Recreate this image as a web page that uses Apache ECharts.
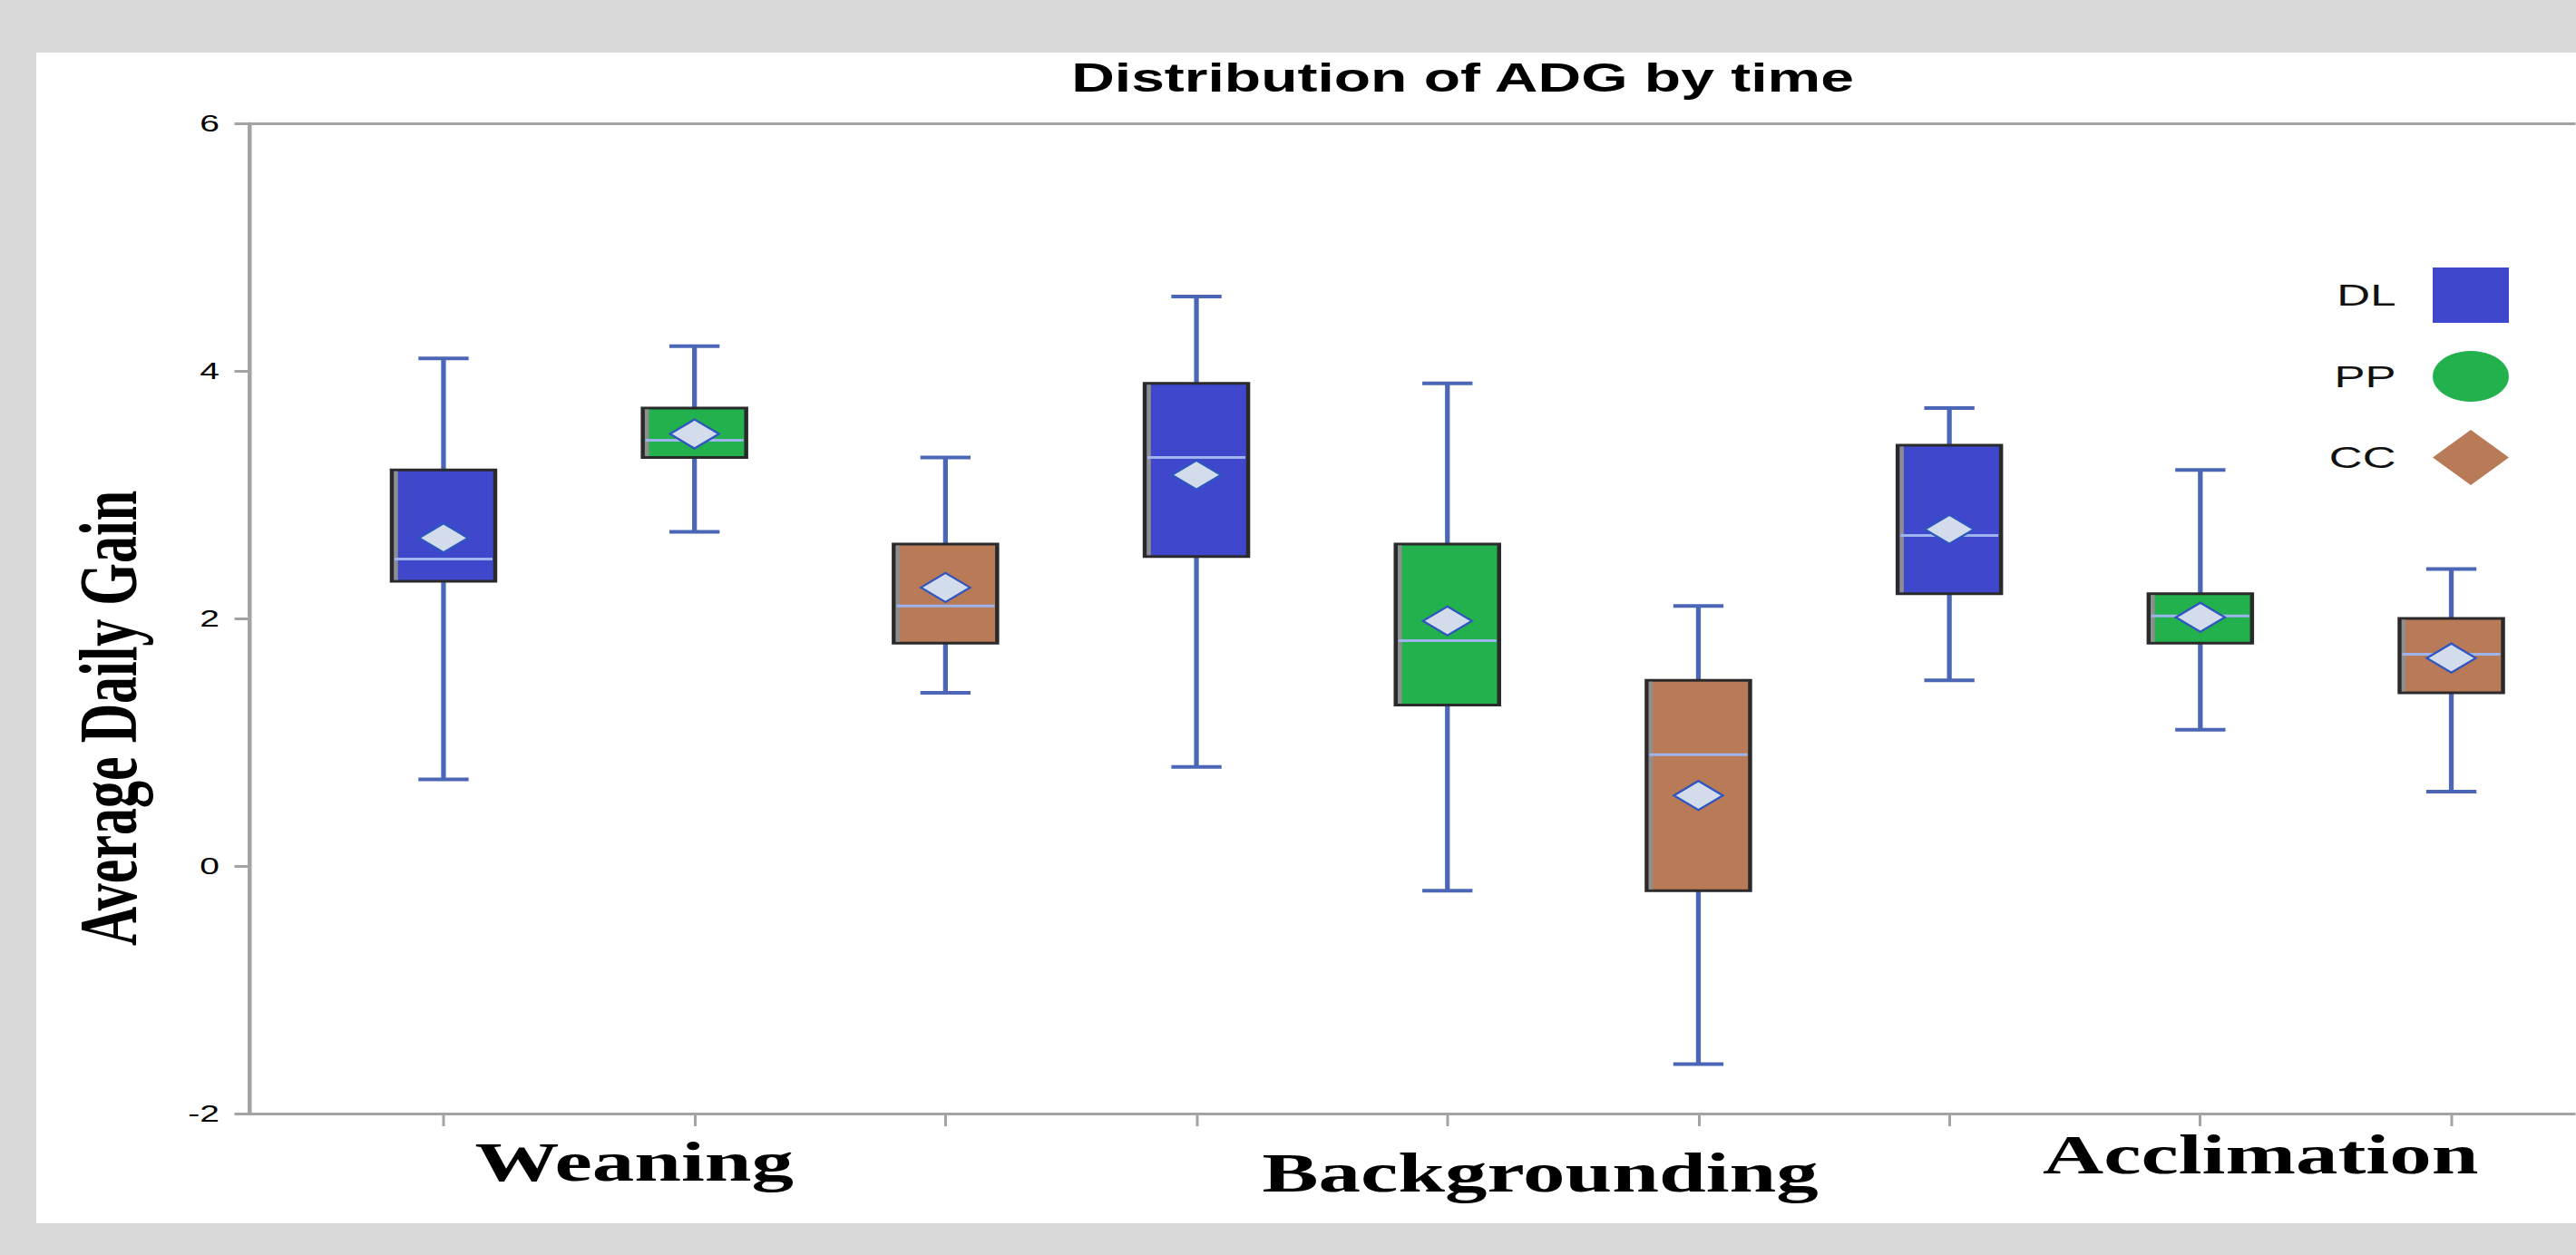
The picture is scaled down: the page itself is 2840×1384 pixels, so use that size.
<!DOCTYPE html>
<html>
<head>
<meta charset="utf-8">
<script src="https://cdn.jsdelivr.net/npm/echarts@6/dist/echarts.min.js"></script>
<style>
  html, body { margin: 0; padding: 0; width: 2840px; height: 1384px; overflow: hidden; background: #d9d9d9; }
  #panel { position: absolute; left: 40px; top: 58px; width: 2800px; height: 1291px; background: #ffffff; }
  /* the figure is drawn narrow and then widened 1.5x, giving its wide lettering */
  #chart { position: absolute; left: 0; top: 0; width: 1893.333px; height: 1384px; transform: scaleX(1.5); transform-origin: 0 0; }
</style>
</head>
<body>
<div id="panel"></div>
<div id="chart"></div>
<script>
// Time periods and treatments
const groups = ['Weaning', 'Backgrounding', 'Acclimation'];
const treatments = ['DL', 'PP', 'CC'];

// Five-number summaries per period: [min, Q1, median, Q3, max]
const dlStats = [[0.7, 2.3, 2.48, 3.2, 4.1], [0.8, 2.5, 3.3, 3.9, 4.6], [1.5, 2.2, 2.67, 3.4, 3.7]];
const ppStats = [[2.7, 3.3, 3.44, 3.7, 4.2], [-0.2, 1.3, 1.82, 2.6, 3.9], [1.1, 1.8, 2.02, 2.2, 3.2]];
const ccStats = [[1.4, 1.8, 2.1, 2.6, 3.3], [-1.6, -0.2, 0.9, 1.5, 2.1], [0.6, 1.4, 1.71, 2.0, 2.4]];

// Group means
const dlMeans = [2.65, 3.16, 2.72];
const ppMeans = [3.49, 1.98, 2.01];
const ccMeans = [2.25, 0.57, 1.68];

// Y axis ticks
const yTicks = [-2, 0, 2, 4, 6];

// Where the period names sit along the x axis
const groupLabelPos = [1.76, 5.37, 8.24];

const statsByTreatment = [dlStats, ppStats, ccStats];
const meansByTreatment = [dlMeans, ppMeans, ccMeans];
const fillColors = ['#3F48CC', '#22B14C', '#B97A57'];
const legendIcons = ['rect', 'circle', 'diamond'];

// Box position on the x axis: three boxes per period, one slot each
function slot(g, t) { return g * treatments.length + t + 1; }
const slotTicks = [];
groups.forEach((g, gi) => treatments.forEach((t, ti) => slotTicks.push(slot(gi, ti))));

const X_MIN = 0.2267;
const X_MAX = 9.495;
const BOX_W = 0.412;   // box width in x-axis units
const CAP_W = 0.2;     // whisker cap width in x-axis units
const WHISKER = '#4b66b6';
const AXIS_GRAY = '#a3a3a3';

function renderBox(params, api) {
  const x = api.value(0);
  const lo = api.coord([x, api.value(1)]);
  const q1 = api.coord([x, api.value(2)]);
  const md = api.coord([x, api.value(3)]);
  const q3 = api.coord([x, api.value(4)]);
  const hi = api.coord([x, api.value(5)]);
  const mn = api.coord([x, api.value(6)]);
  const bw = api.size([BOX_W, 0])[0];
  const cw = api.size([CAP_W, 0])[0];
  const cx = lo[0];
  const fill = api.visual('color');
  const dw = 36, dh = 32;
  return {
    type: 'group',
    children: [
      { type: 'line', shape: { x1: cx, y1: hi[1], x2: cx, y2: lo[1] }, style: { stroke: WHISKER, lineWidth: 3.5 } },
      { type: 'line', shape: { x1: cx - cw / 2, y1: hi[1], x2: cx + cw / 2, y2: hi[1] }, style: { stroke: WHISKER, lineWidth: 4 } },
      { type: 'line', shape: { x1: cx - cw / 2, y1: lo[1], x2: cx + cw / 2, y2: lo[1] }, style: { stroke: WHISKER, lineWidth: 4 } },
      { type: 'rect', shape: { x: cx - bw / 2, y: q3[1], width: bw, height: q1[1] - q3[1] },
        style: { fill: fill, stroke: '#2a2a2a', lineWidth: 3 } },
      { type: 'rect', shape: { x: cx - bw / 2 + 1.5, y: q3[1] + 1.5, width: 3, height: q1[1] - q3[1] - 3 },
        style: { fill: '#8e8e8e' } },
      { type: 'line', shape: { x1: cx - bw / 2 + 2, y1: md[1], x2: cx + bw / 2 - 2, y2: md[1] },
        style: { stroke: '#9fb4ec', lineWidth: 3 } },
      { type: 'polygon', shape: { points: [[cx - dw / 2, mn[1]], [cx, mn[1] - dh / 2], [cx + dw / 2, mn[1]], [cx, mn[1] + dh / 2]] },
        style: { fill: '#d2dcea', stroke: '#2f55c0', lineWidth: 2 } }
    ]
  };
}

const series = treatments.map((name, ti) => ({
  name: name,
  type: 'custom',
  renderItem: renderBox,
  xAxisIndex: 0,
  yAxisIndex: 0,
  itemStyle: { color: fillColors[ti] },
  encode: { x: 0, y: [1, 2, 3, 4, 5, 6] },
  data: groups.map((g, gi) => [slot(gi, ti)].concat(statsByTreatment[ti][gi], [meansByTreatment[ti][gi]])),
  z: 3
}));

const chart = echarts.init(document.getElementById('chart'), null, { renderer: 'svg' });

chart.setOption({
  backgroundColor: 'transparent',
  animation: false,
  title: {
    text: 'Distribution of ADG by time',
    left: 1075,
    top: 64,
    textAlign: 'center',
    padding: 0,
    textStyle: { fontFamily: 'Liberation Sans', fontWeight: 'bold', fontSize: 44, color: '#000' }
  },
  legend: {
    orient: 'vertical',
    right: 49,
    top: 295,
    padding: 0,
    align: 'right',
    itemWidth: 56,
    itemHeight: 61,
    itemGap: 31,
    selectedMode: false,
    data: treatments.map((t, i) => ({ name: t, icon: legendIcons[i] })),
    textStyle: { fontFamily: 'Liberation Sans', fontSize: 34, color: '#111', padding: [0, 22, 0, 0] }
  },
  grid: {
    left: 183.333,
    top: 136,
    right: 0,
    bottom: 156,
    show: false
  },
  xAxis: [{
    type: 'value',
    position: 'bottom',
    min: X_MIN,
    max: X_MAX,
    axisLine: { show: true, onZero: false, lineStyle: { color: AXIS_GRAY, width: 3 } },
    splitLine: { show: false },
    axisTick: { show: true, customValues: slotTicks, length: 14, lineStyle: { color: AXIS_GRAY, width: 2 } },
    axisLabel: {
      show: true,
      customValues: groupLabelPos,
      margin: 14,
      formatter: function (value, index) {
        let i = index;
        if (i == null || i < 0 || i >= groups.length) {
          i = groupLabelPos.reduce((b, p, k) => Math.abs(p - value) < Math.abs(groupLabelPos[b] - value) ? k : b, 0);
        }
        return '{g' + i + '|' + groups[i] + '}';
      },
      rich: {
        g0: { fontFamily: 'Liberation Serif', fontWeight: 'bold', fontSize: 62, color: '#000', padding: [8, 0, 0, 0] },
        g1: { fontFamily: 'Liberation Serif', fontWeight: 'bold', fontSize: 62, color: '#000', padding: [20, 0, 0, 0] },
        g2: { fontFamily: 'Liberation Serif', fontWeight: 'bold', fontSize: 62, color: '#000', padding: [0, 0, 0, 0] }
      }
    }
  }, {
    // top frame line
    type: 'value',
    position: 'top',
    min: X_MIN,
    max: X_MAX,
    axisLine: { show: true, onZero: false, lineStyle: { color: AXIS_GRAY, width: 3 } },
    axisTick: { show: false },
    axisLabel: { show: false },
    splitLine: { show: false }
  }],
  yAxis: {
    type: 'value',
    min: yTicks[0],
    max: yTicks[yTicks.length - 1],
    interval: 2,
    axisLine: { show: true, onZero: false, lineStyle: { color: AXIS_GRAY, width: 3 } },
    splitLine: { show: false },
    axisTick: { show: true, length: 11, lineStyle: { color: AXIS_GRAY, width: 3 } },
    axisLabel: { margin: 22, fontFamily: 'Liberation Sans', fontSize: 26, color: '#000' }
  },
  graphic: [{
    type: 'text',
    x: 80,
    y: 792,
    rotation: Math.PI / 2,
    style: {
      text: 'Average Daily Gain',
      font: 'bold 60px "Liberation Serif"',
      fill: '#000',
      align: 'center',
      verticalAlign: 'middle'
    }
  }],
  series: series
});
</script>
</body>
</html>
